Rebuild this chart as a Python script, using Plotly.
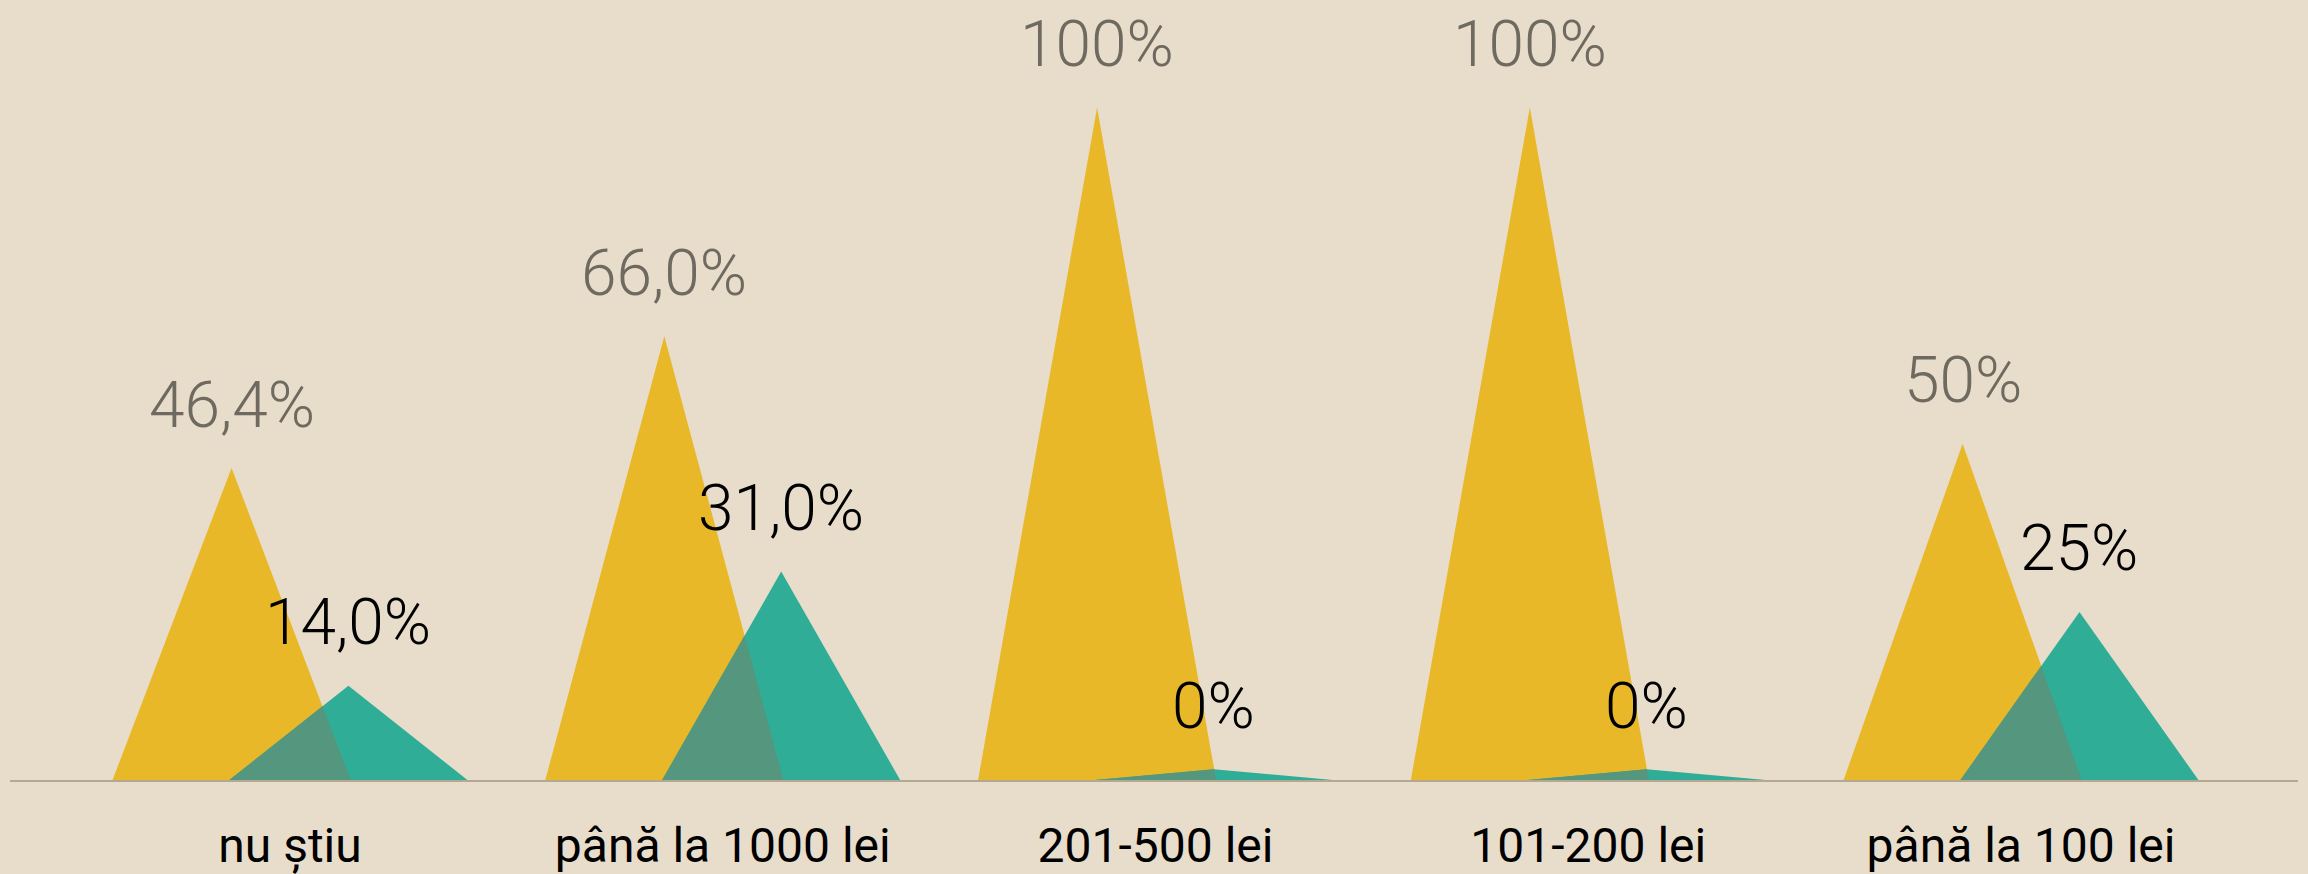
import plotly.graph_objects as go

# === Data
categories = ["nu știu", "până la 1000 lei", "201-500 lei", "101-200 lei", "până la 100 lei"]
yellow_values = [46.4, 66.0, 100, 100, 50]
teal_values = [14.0, 31.0, 0, 0, 25]
yellow_labels = ["46,4%", "66,0%", "100%", "100%", "50%"]
teal_labels = ["14,0%", "31,0%", "0%", "0%", "25%"]

# === Styling
BG = "#E8DDCB"
YELLOW = "#E8B828"
TEAL = "#30AD96"
OVERLAP = "#55967E"
HALF_W = 0.275     # half base width of a triangle, in category units
OFFSET = 0.135     # shift of each series from the category centre
MIN_H = 1.6        # a zero value still shows as a thin sliver


def triangle(cx, h):
    return [cx - HALF_W, cx, cx + HALF_W, cx - HALF_W], [0, h, 0, 0]


fig = go.Figure()

for i, (vy, vt) in enumerate(zip(yellow_values, teal_values)):
    cy, ct = i - OFFSET, i + OFFSET
    hy, ht = max(vy, MIN_H), max(vt, MIN_H)

    xs, ys = triangle(cy, hy)
    fig.add_trace(go.Scatter(x=xs, y=ys, fill="toself", fillcolor=YELLOW,
                             mode="none", hoverinfo="skip", showlegend=False))
    xs, ys = triangle(ct, ht)
    fig.add_trace(go.Scatter(x=xs, y=ys, fill="toself", fillcolor=TEAL,
                             mode="none", hoverinfo="skip", showlegend=False))

    # overlap: yellow right edge meets teal left edge
    xi = (hy * (cy + HALF_W) + ht * (ct - HALF_W)) / (hy + ht)
    yi = ht * (xi - (ct - HALF_W)) / HALF_W
    fig.add_trace(go.Scatter(x=[ct - HALF_W, xi, cy + HALF_W, ct - HALF_W],
                             y=[0, yi, 0, 0], fill="toself", fillcolor=OVERLAP,
                             mode="none", hoverinfo="skip", showlegend=False))

    fig.add_annotation(x=cy, y=hy, text=yellow_labels[i], showarrow=False,
                       yanchor="middle", yshift=63,
                       font=dict(family="Roboto", size=64, weight=300, color="#6F6A60"))
    fig.add_annotation(x=ct, y=ht, text=teal_labels[i], showarrow=False,
                       yanchor="middle", yshift=63,
                       font=dict(family="Roboto", size=64, weight=300, color="#000000"))

fig.update_layout(
    width=2308, height=874,
    margin=dict(l=10, r=10, t=0, b=94),
    paper_bgcolor=BG, plot_bgcolor=BG,
    xaxis=dict(
        range=[-0.647, 4.64], tickmode="array",
        tickvals=list(range(len(categories))), ticktext=categories,
        showgrid=False, zeroline=False, showline=True,
        linecolor="#B3A892", linewidth=2, automargin=False,
        ticks="", ticklabelstandoff=22,
        tickfont=dict(family="Roboto", size=48, color="#000000"),
    ),
    yaxis=dict(range=[0, 116.0], visible=False, showgrid=False, zeroline=False),
)

# drop the page's default body margin so the chart fills the window
fig.write_html("out.html", config={"displayModeBar": False},
               post_script="document.body.style.margin='0';document.body.style.background='#E8DDCB';")
